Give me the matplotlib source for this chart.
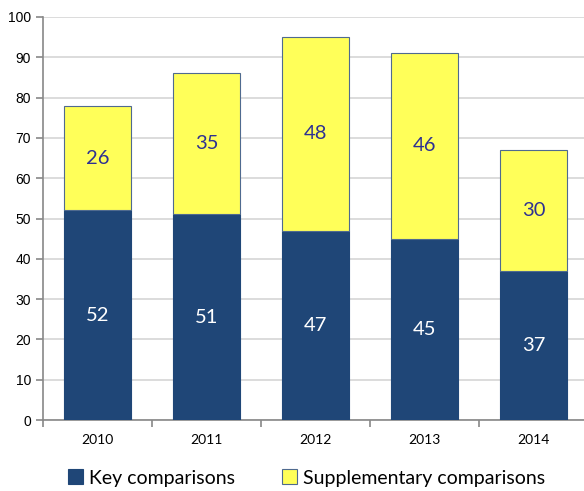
import matplotlib
matplotlib.use("Agg")
import matplotlib.pyplot as plt
import numpy as np

years = ["2010", "2011", "2012", "2013", "2014"]
key = [52, 51, 47, 45, 37]
supp = [26, 35, 48, 46, 30]

plt.rcParams['font.family'] = ['Lato', 'DejaVu Sans']

fig = plt.figure(figsize=(5.84, 4.91), dpi=100)
ax = fig.add_axes([43/584, 1-420/491, (588-43)/584, (420-17)/491])

x = np.arange(len(years))
w = 0.62
navy = '#1F4677'
yel = '#FFFF59'
ax.bar(x, key, w, color=navy, edgecolor=navy, linewidth=0.8, zorder=3, label='Key comparisons')
ax.bar(x, supp, w, bottom=key, color=yel, edgecolor='#4F6A8F', linewidth=0.8, zorder=3,
       label='Supplementary comparisons')

for i in range(len(years)):
    ax.text(x[i], key[i]/2, str(key[i]), ha='center', va='center', color='white', fontsize=14.5, zorder=4)
    ax.text(x[i], key[i] + supp[i]/2, str(supp[i]), ha='center', va='center', color='#2E3192', fontsize=14.5, zorder=4)

ax.set_xlim(-0.5, 4.5)
ax.set_ylim(0, 100)
ax.set_yticks(range(0, 101, 10))
ax.set_yticklabels([str(v) for v in range(0, 101, 10)], fontsize=10, family=['Liberation Sans'])
ax.set_xticks(x)
ax.set_xticklabels(years, fontsize=10)
ax.tick_params(axis='x', length=0, pad=10)
ax.set_xticks(np.arange(-0.5, 5.0, 1.0), minor=True)
ax.tick_params(axis='x', which='minor', length=5, direction='out', color='#888888', width=1.2)
ax.tick_params(axis='y', length=5, direction='out', color='#888888', width=1.2)

ax.grid(axis='y', color='#D9D9D9', linewidth=1.3, zorder=0)
for s in ['top', 'right']:
    ax.spines[s].set_visible(False)
for s in ['left', 'bottom']:
    ax.spines[s].set_color('#888888')
    ax.spines[s].set_linewidth(1.2)

handles, labels = ax.get_legend_handles_labels()
leg = fig.legend(handles, labels, loc='center', bbox_to_anchor=(0.525, 1-478/491), ncol=2,
                 frameon=False, fontsize=14, handlelength=0.8, handleheight=0.8,
                 handletextpad=0.3, columnspacing=2.4)

fig.savefig("out.png", dpi=100)
